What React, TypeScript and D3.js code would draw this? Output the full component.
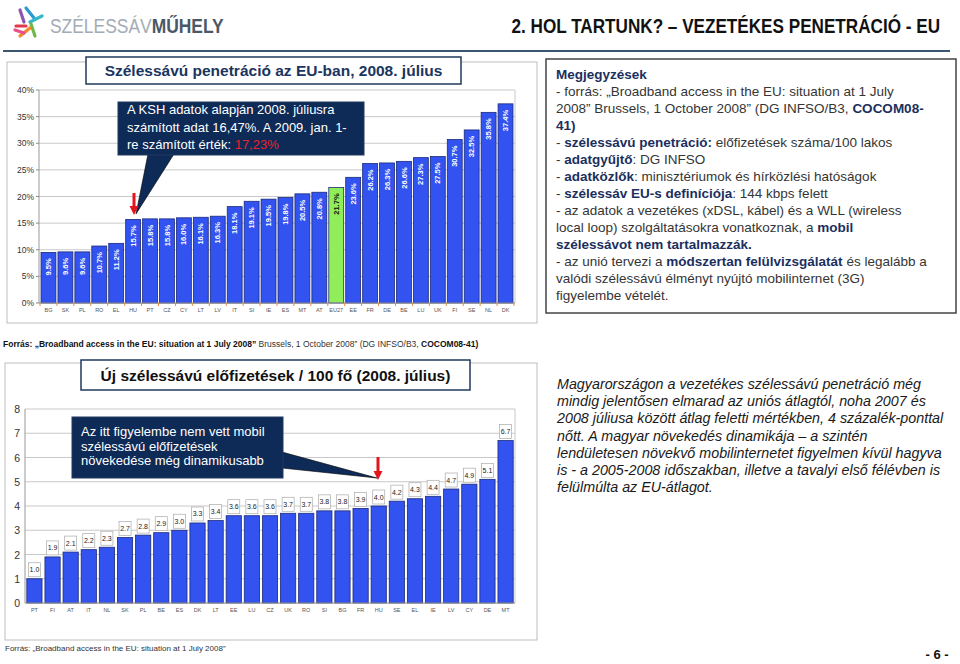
import React from 'react';
import * as d3 from 'd3';

const topCountries = ['BG','SK','PL','RO','EL','HU','PT','CZ','CY','LT','LV','IT','SI','IE','ES','MT','AT','EU27','EE','FR','DE','BE','LU','UK','FI','SE','NL','DK'];
const topValues = [9.5,9.6,9.6,10.7,11.2,15.7,15.8,15.8,16.0,16.1,16.3,18.1,19.1,19.5,19.8,20.5,20.8,21.7,23.6,26.2,26.3,26.6,27.3,27.5,30.7,32.5,35.8,37.4];
const topTicks = [0,5,10,15,20,25,30,35,40];

const botCountries = ['PT','FI','AT','IT','NL','SK','PL','BE','ES','DK','LT','EE','LU','CZ','UK','RO','SI','BG','FR','HU','SE','EL','IE','LV','CY','DE','MT'];
const botValues = [1.0,1.9,2.1,2.2,2.3,2.7,2.8,2.9,3.0,3.3,3.4,3.6,3.6,3.6,3.7,3.7,3.8,3.8,3.9,4.0,4.2,4.3,4.4,4.7,4.9,5.1,6.7];
const botTicks = [0,1,2,3,4,5,6,7,8];

const topTitle = 'Szélessávú penetráció az EU-ban, 2008. július';
const botTitle = 'Új szélessávú előfizetések / 100 fő (2008. július)';
const headerTitle = '2. HOL TARTUNK? – VEZETÉKES PENETRÁCIÓ - EU';

const topCallout: [string, boolean][][] = [
  [['A KSH adatok alapján 2008. júliusra', false]],
  [['számított  adat 16,47%. A 2009. jan. 1-', false]],
  [['re számított érték: ', false], ['17,23%', true]],
];
const botCallout = ['Az itt figyelembe nem vett mobil', 'szélessávú előfizetések', 'növekedése még dinamikusabb'];

const notes: [string, boolean][][] = [
  [['Megjegyzések', true]],
  [['- forrás: „Broadband access in the EU: situation at 1 July', false]],
  [['2008” Brussels, 1 October 2008” (DG INFSO/B3, ', false], ['COCOM08-', true]],
  [['41)', true]],
  [['- ', false], ['szélessávú penetráció:', true], [' előfizetések száma/100 lakos', false]],
  [['- ', false], ['adatgyűjtő', true], [': DG INFSO', false]],
  [['- ', false], ['adatközlők', true], [': minisztériumok és hírközlési hatóságok', false]],
  [['- ', false], ['szélessáv EU-s definíciója', true], [': 144 kbps felett', false]],
  [['- az adatok a vezetékes (xDSL, kábel) és a WLL (wireless', false]],
  [['local loop) szolgáltatásokra vonatkoznak, a ', false], ['mobil', true]],
  [['szélessávot nem tartalmazzák.', true]],
  [['- az unió tervezi a ', false], ['módszertan felülvizsgálatát', true], [' és legalább a', false]],
  [['valódi szélessávú élményt nyújtó mobilinternet (3G)', false]],
  [['figyelembe vételét.', false]],
];

const rightText = [
  'Magyarországon a vezetékes szélessávú penetráció még',
  'mindig jelentősen elmarad az uniós átlagtól, noha 2007 és',
  '2008 júliusa között átlag feletti mértékben, 4 százalék-ponttal',
  'nőtt. A magyar növekedés dinamikája – a szintén',
  'lendületesen növekvő mobilinternetet figyelmen kívül hagyva',
  'is - a 2005-2008 időszakban, illetve a tavalyi első félévben is',
  'felülmúlta az EU-átlagot.',
];

const FONT = '"Liberation Sans", Arial, sans-serif';
const BLUE = '#3253ef';
const BAR_STROKE = '#1c2a7a';
const NAVY = '#0e2a57';
const GRID = '#c9c9c9';

export default function App() {
  const xT = d3.scaleBand<string>().domain(topCountries).range([39, 515]).paddingInner(0.12).paddingOuter(0.12);
  const yT = d3.scaleLinear().domain([0, 40]).range([303, 90]);
  const xB = d3.scaleBand<string>().domain(botCountries).range([25, 515]).paddingInner(0.16).paddingOuter(0.1);
  const yB = d3.scaleLinear().domain([0, 8]).range([603, 409]);

  const tGap = (xT.step() - xT.bandwidth()) / 2;
  const topBounds = topCountries.map(c => (xT(c) as number) - tGap).concat([(xT(topCountries[topCountries.length - 1]) as number) + xT.bandwidth() + tGap]);

  const logoSticks = [
    { x1: 20, y1: 10, x2: 24, y2: 22, c: '#8a56b0' },
    { x1: 26, y1: 8, x2: 34, y2: 18, c: '#2a9ad6' },
    { x1: 30, y1: 22, x2: 42, y2: 16, c: '#35b8c8' },
    { x1: 31, y1: 24, x2: 35, y2: 36, c: '#6cb84a' },
    { x1: 30, y1: 28, x2: 20, y2: 36, c: '#f08a24' },
    { x1: 16, y1: 26, x2: 26, y2: 26, c: '#e23a4a' },
    { x1: 15, y1: 30, x2: 24, y2: 33, c: '#e8508a' },
  ];

  return (
    <svg width={960} height={664} style={{ position: 'absolute', left: 0, top: 0, background: '#fff' }} fontFamily={FONT}>
      <rect x={0} y={0} width={960} height={664} fill="#fff" />
      {/* Header */}
      {logoSticks.map((s, i) => (
        <line key={i} x1={s.x1} y1={s.y1} x2={s.x2} y2={s.y2} stroke={s.c} strokeWidth={3.2} strokeLinecap="round" />
      ))}
      <g transform="translate(50,33) scale(0.83,1)">
        <text x={0} y={0} fontSize={21} fill="#a3acb5">SZÉLESSÁV<tspan fill="#4b5866" fontWeight="bold">MŰHELY</tspan></text>
      </g>
      <g transform="translate(940,33) scale(0.857,1)">
        <text x={0} y={0} textAnchor="end" fontWeight="bold" fontSize={20} fill="#111">{headerTitle}</text>
      </g>
      <line x1={3} y1={51} x2={950} y2={51} stroke="#3d5670" strokeWidth={2} />

      {/* Top chart */}
      <rect x={7} y={62} width={530} height={261} fill="#fff" stroke="#bdbdbd" strokeWidth={1} />
      {topTicks.map(t => (
        <g key={t}>
          <line x1={39} x2={515} y1={yT(t)} y2={yT(t)} stroke={GRID} strokeWidth={1} />
          <line x1={36} x2={39} y1={yT(t)} y2={yT(t)} stroke="#888" />
          <text x={34} y={yT(t) + 3} textAnchor="end" fontSize={8.5} fill="#333">{t}%</text>
        </g>
      ))}
      <line x1={515} x2={515} y1={90} y2={303} stroke={GRID} />
      <line x1={39} x2={39} y1={90} y2={303} stroke="#999" />
      {topCountries.map((c, i) => {
        const v = topValues[i];
        const x = xT(c) as number;
        const isEU = c === 'EU27';
        return (
          <g key={c}>
            <rect x={x} y={yT(v)} width={xT.bandwidth()} height={yT(0) - yT(v)} fill={isEU ? '#8fee5a' : BLUE} stroke={BAR_STROKE} strokeWidth={0.8} />
            <text transform={`translate(${x + xT.bandwidth() / 2 + 2.6},${yT(v) + 6}) rotate(-90)`} textAnchor="end" fontSize={7.5} fontWeight="bold" fill={isEU ? '#111' : '#fff'}>{v.toFixed(1)}%</text>
            <text x={x + xT.bandwidth() / 2} y={312} textAnchor="middle" fontSize={5.5} fill="#555">{c}</text>
          </g>
        );
      })}
      <line x1={39} x2={515} y1={303} y2={303} stroke="#999" />
      {topBounds.map((b, i) => (
        <line key={i} x1={b} x2={b} y1={303} y2={306} stroke="#e8893a" strokeWidth={1} />
      ))}
      {/* top title */}
      <rect x={86} y={57} width={375} height={27} fill="#fff" stroke="#1f3a5f" strokeWidth={1.5} />
      <text x={273.5} y={76} textAnchor="middle" fontWeight="bold" fontSize={15.5} fill="#1a3560">{topTitle}</text>
      {/* top callout */}
      <polygon points={`148,154 174,154 136,214`} fill={NAVY} stroke="#000" strokeWidth={0.6} />
      <rect x={118} y={102} width={246} height={53} fill={NAVY} stroke="#22385e" strokeWidth={1} />
      {topCallout.map((line, i) => (
        <text key={i} x={127} y={114 + i * 17.5} fontSize={13} fill="#fff">
          {line.map((seg, j) => (
            <tspan key={j} fill={seg[1] ? '#e8242c' : '#fff'}>{seg[0]}</tspan>
          ))}
        </text>
      ))}
      <line x1={134} x2={134} y1={193} y2={207} stroke="#e3141c" strokeWidth={3} />
      <polygon points="129.5,206 138.5,206 134,215" fill="#e3141c" />

      {/* Notes box */}
      <rect x={546} y={59} width={410} height={254} fill="#fff" stroke="#444" strokeWidth={1.5} />
      {notes.map((line, i) => (
        <text key={i} x={556} y={79 + i * 17} fontSize={13.5}>
          {line.map((seg, j) => (
            <tspan key={j} fontWeight={seg[1] ? 'bold' : 'normal'} fill={seg[1] ? '#1b2f5e' : '#353535'}>{seg[0]}</tspan>
          ))}
        </text>
      ))}

      {/* Source line */}
      <text x={3} y={347} fontSize={8.5} fill="#111">
        <tspan fontWeight="bold">Forrás: „Broadband access in the EU: situation at 1 July 2008”</tspan>
        <tspan fill="#333"> Brussels, 1 October 2008” (DG INFSO/B3, </tspan>
        <tspan fontWeight="bold">COCOM08-41)</tspan>
      </text>

      {/* Bottom chart */}
      <rect x={5} y={363} width={532} height={277} fill="#fff" stroke="#bdbdbd" strokeWidth={1} />
      {botTicks.map(t => (
        <g key={t}>
          <line x1={25} x2={515} y1={yB(t)} y2={yB(t)} stroke={GRID} strokeWidth={1} />
          <text x={20} y={yB(t) + 4} textAnchor="end" fontSize={10.5} fill="#333">{t}</text>
        </g>
      ))}
      <line x1={515} x2={515} y1={409} y2={603} stroke={GRID} />
      <line x1={25} x2={25} y1={409} y2={603} stroke="#999" />
      {botCountries.map((c, i) => {
        const v = botValues[i];
        const x = xB(c) as number;
        const cx = x + xB.bandwidth() / 2;
        const top = yB(v);
        return (
          <g key={c}>
            <rect x={x} y={top} width={xB.bandwidth()} height={yB(0) - top} fill={BLUE} stroke={BAR_STROKE} strokeWidth={0.8} />
            <rect x={cx - 6} y={top - 16} width={12} height={14} fill="#fff" stroke="#aaa" strokeWidth={0.7} />
            <text x={cx} y={top - 6.5} textAnchor="middle" fontSize={7} fill="#222">{v.toFixed(1)}</text>
            <text x={cx} y={612} textAnchor="middle" fontSize={5.5} fill="#555">{c}</text>
          </g>
        );
      })}
      <line x1={25} x2={515} y1={603} y2={603} stroke="#999" />
      {/* bottom title */}
      <rect x={81} y={360} width={389} height={30} fill="#fff" stroke="#1f3a5f" strokeWidth={1.5} />
      <text x={275.5} y={381} textAnchor="middle" fontWeight="bold" fontSize={15.5} fill="#111">{botTitle}</text>
      {/* bottom callout */}
      <polygon points="282,452 282,468 377,478" fill={NAVY} stroke="#000" strokeWidth={0.6} />
      <rect x={72} y={417} width={211} height={61} fill={NAVY} stroke="#22385e" strokeWidth={1} />
      {botCallout.map((l, i) => (
        <text key={i} x={81} y={436 + i * 14.5} fontSize={13} fill="#fff">{l}</text>
      ))}
      <line x1={378} x2={378} y1={457} y2={472} stroke="#e3141c" strokeWidth={3} />
      <polygon points="373.5,471 382.5,471 378,480" fill="#e3141c" />

      {/* Right text */}
      {rightText.map((l, i) => (
        <text key={i} x={557} y={389 + i * 17.2} fontSize={14.3} fontStyle="italic" fill="#1a1a1a">{l}</text>
      ))}

      {/* Footer */}
      <text x={5} y={651} fontSize={8} fill="#333">Forrás: „Broadband access in the EU: situation at 1 July 2008”</text>
      <text x={937} y={659} textAnchor="middle" fontWeight="bold" fontSize={13} fill="#111">- 6 -</text>
    </svg>
  );
}
